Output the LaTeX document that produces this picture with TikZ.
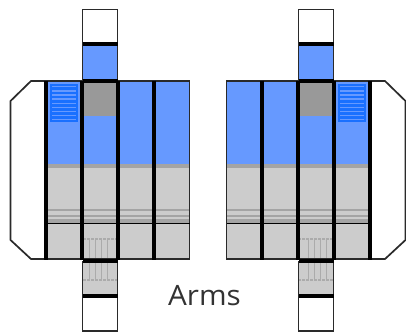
\documentclass[tikz,border=0pt]{standalone}
\usepackage{fontspec}
\setmainfont{Open Sans}
\definecolor{panelblue}{HTML}{6699FF}
\definecolor{ventblue}{HTML}{1A70FF}
\definecolor{panelgrey}{HTML}{CCCCCC}
\definecolor{bandgrey}{HTML}{A4A4A4}
\definecolor{hatchgrey}{HTML}{ABABAB}
\definecolor{blockgrey}{HTML}{999999}
\definecolor{inkline}{HTML}{2A2A2A}
\tikzset{
  thinline/.style={draw=inkline,line width=1.7bp},
  midline/.style={draw=black,line width=1.8bp},
  thickline/.style={draw=black,line width=3.6bp},
  band/.style={draw=bandgrey,line width=1.3bp},
  hatch/.style={draw=hatchgrey,line width=1.2bp},
  stripe/.style={draw=panelblue,line width=1.4bp}
}
\newcommand{\halfbody}{%
  % fills
  \fill[white] (10.5,101) -- (31,81) -- (46,81) -- (46,259) -- (31,259) -- (10.5,240) -- cycle;
  \fill[white] (82.5,9.5) rectangle (117.5,44);
  \fill[white] (82.5,296) rectangle (117.5,331);
  \fill[panelblue] (82.5,44) rectangle (117.5,81);
  \fill[panelblue] (46,81) rectangle (189.5,164);
  \fill[panelgrey] (46,164) rectangle (189.5,259);
  \fill[panelgrey] (82.5,259) rectangle (117.5,296);
  \fill[blockgrey] (82,82) rectangle (118,116);
  % vent
  \fill[ventblue] (50,84) rectangle (78,122);
  \foreach \yy in {86.7,90.8,95,99.1,103.3,107.4,111.6,115.7,119.6}
    \draw[stripe] (52,\yy) -- (76,\yy);
  % grey bands
  \foreach \yy in {165,167,210,216,220,222}
    \draw[band] (46,\yy) -- (189.5,\yy);
  % hatching over the lower joint
  \foreach \yy in {239,280}
    \draw[hatch,dash pattern=on 3bp off 1bp] (83,\yy) -- (117,\yy);
  \foreach \xx in {89.5,95.3,101.5,107.3}
    \draw[hatch] (\xx,239) -- (\xx,280);
  % outlines
  \draw[thinline] (46,81) -- (31,81) -- (10.5,101) -- (10.5,240) -- (31,259) -- (46,259);
  \draw[thinline] (82.5,44) -- (82.5,9.5) -- (117.5,9.5) -- (117.5,44);
  \draw[thinline] (82.5,44) -- (82.5,81) (117.5,44) -- (117.5,81);
  \draw[thinline] (82.5,261) -- (82.5,331) -- (117.5,331) -- (117.5,261);
  \draw[thinline] (46,81) -- (189.5,81) -- (189.5,259) -- (46,259);
  \draw[midline] (46,223.5) -- (189.5,223.5);
  \draw[thickline] (82.5,44) -- (117.5,44);
  \draw[thickline] (82.5,81) -- (117.5,81);
  \draw[thickline] (82.5,261) -- (117.5,261);
  \draw[thickline] (82.5,296) -- (117.5,296);
  \foreach \xx in {46,82,118,154}
    \draw[thickline] (\xx,80.5) -- (\xx,259.5);
}
\begin{document}
\begin{tikzpicture}[x=1bp,y=-1bp]
  \useasboundingbox (0,0) rectangle (406,333);
  \fill[white] (0,0) rectangle (406,333);
  \begin{scope}
    \halfbody
  \end{scope}
  \begin{scope}[xshift=416bp,xscale=-1]
    \halfbody
  \end{scope}
  \node[anchor=base west,inner sep=0pt,xscale=1.06,font=\fontsize{28bp}{30bp}\selectfont,text=black!80] (armslabel) at (168,305) {Arms};
\end{tikzpicture}
\end{document}
